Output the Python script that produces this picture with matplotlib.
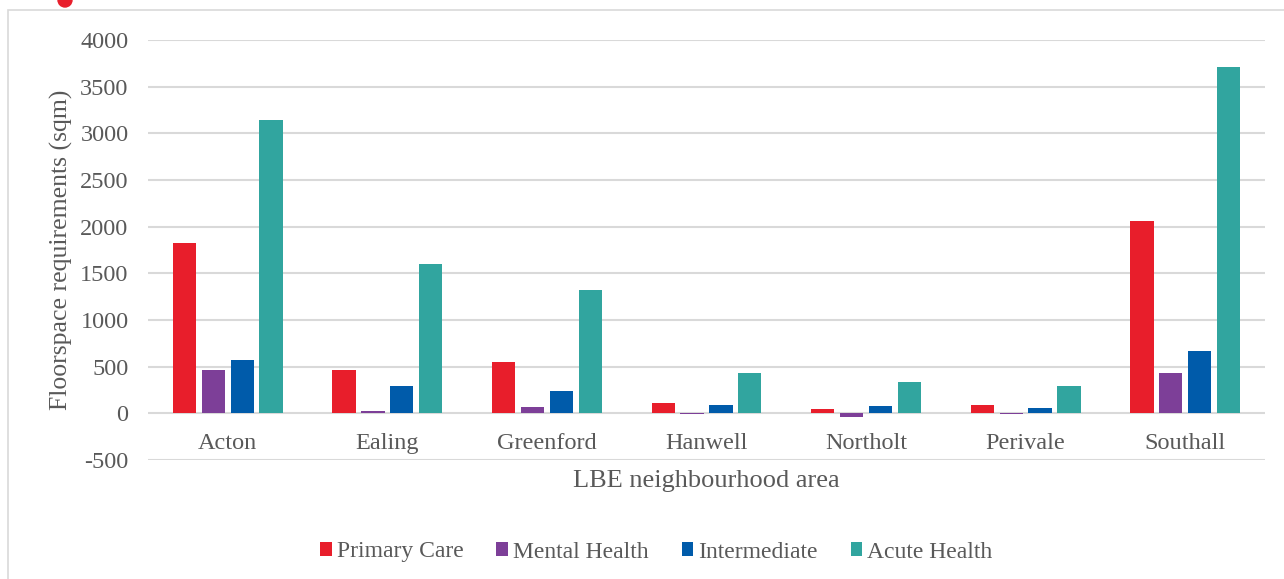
import numpy as np
import matplotlib.pyplot as plt
from matplotlib.patches import Rectangle, Ellipse

areas = ["Acton", "Ealing", "Greenford", "Hanwell", "Northolt", "Perivale", "Southall"]
primary_care = [1820, 465, 550, 115, 45, 90, 2065]
mental_health = [465, 25, 70, -10, -40, -10, 435]
intermediate = [575, 290, 240, 85, 80, 60, 665]
acute_health = [3140, 1595, 1325, 435, 340, 295, 3715]
y_ticks = list(range(-500, 4001, 500))

series = [
    ("Primary Care", primary_care, "#E81E2B"),
    ("Mental Health", mental_health, "#7D3F98"),
    ("Intermediate", intermediate, "#005BAA"),
    ("Acute Health", acute_health, "#31A59F"),
]

plt.rcParams['font.family'] = ['Liberation Serif', 'DejaVu Serif']
plt.rcParams['axes.unicode_minus'] = False
grey = "#595959"

fig = plt.figure(figsize=(12.84, 5.79), dpi=100)
fig.patches.append(Rectangle((8 / 1284, -0.1), 1.2, (569 / 579) + 0.1, transform=fig.transFigure,
                             fill=False, edgecolor="#D9D9D9", linewidth=1.2))
# red mark of a title cut off at the top edge
fig.patches.append(Ellipse((65 / 1284, 1.0), 14 / 1284, 14 / 579, transform=fig.transFigure,
                           color="#E81E2B"))

ax = fig.add_axes([148 / 1284, (579 - 460) / 579, (1265 - 148) / 1284, 420 / 579])

x = np.arange(len(areas))
step = 0.181
width = 0.146
for i, (name, vals, col) in enumerate(series):
    ax.bar(x + (i - 1.5) * step, vals, width, color=col, label=name, zorder=3)

ax.set_xlim(-0.5, len(areas) - 0.5)
ax.set_ylim(-500, 4000)
ax.set_yticks(y_ticks)
ax.set_yticklabels([str(v) for v in y_ticks])
ax.yaxis.grid(True, color="#D9D9D9", linewidth=1.5, zorder=0)
ax.set_axisbelow(True)
ax.spines['bottom'].set_position(('data', 0))
for s in ax.spines.values():
    s.set_visible(False)
ax.tick_params(axis="both", length=0, labelsize=17.5, labelcolor=grey)
ax.tick_params(axis="y", pad=14)
ax.tick_params(axis="x", pad=14)
ax.set_xticks(x)
ax.set_xticklabels(areas)

ax.set_ylabel("Floorspace requirements (sqm)", fontsize=18.5, color=grey, labelpad=5)
ax.set_xlabel("LBE neighbourhood area", fontsize=19, color=grey, labelpad=12)

ax.legend(loc="center", bbox_to_anchor=(0.455, (552 - 460) / -420), ncol=4, frameon=False,
          fontsize=17, labelcolor=grey, handlelength=0.5, handleheight=0.5,
          handletextpad=0.2, columnspacing=1.4)

fig.savefig("out.png", dpi=100)
